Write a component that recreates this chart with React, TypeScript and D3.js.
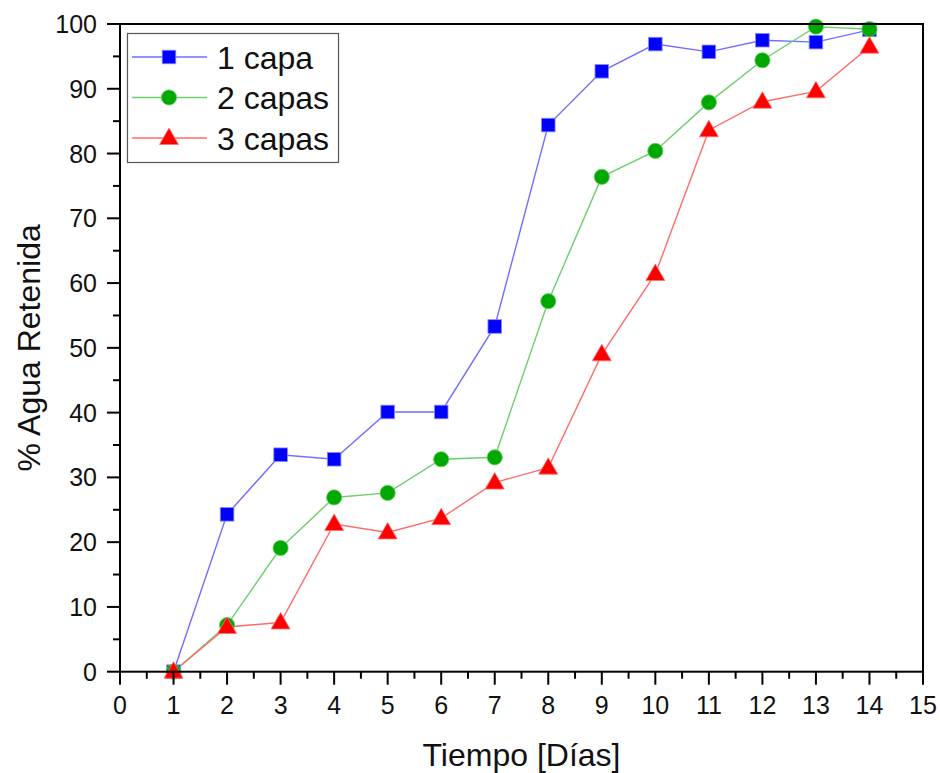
import React from "react";
import * as d3 from "d3";

const days = [1, 2, 3, 4, 5, 6, 7, 8, 9, 10, 11, 12, 13, 14];
const capa1 = [0, 24.3, 33.5, 32.8, 40.1, 40.1, 53.3, 84.4, 92.7, 96.9, 95.7, 97.5, 97.2, 99.1];
const capa2 = [0, 7.2, 19.1, 26.9, 27.6, 32.8, 33.1, 57.2, 76.4, 80.4, 87.9, 94.4, 99.6, 99.2];
const capa3 = [0, 6.9, 7.6, 22.8, 21.5, 23.7, 29.2, 31.5, 49.0, 61.4, 83.6, 88.0, 89.6, 96.5];
const seriesNames = ["1 capa", "2 capas", "3 capas"];
const xTicks = d3.range(0, 16, 1);
const yTicks = d3.range(0, 101, 10);

const W = 940;
const H = 773;
const left = 120;
const right = 923;
const top = 24;
const bottom = 671.7;
const FONT = "Liberation Sans, Arial, sans-serif";

const styles = [
  { line: "#6f6fff", fill: "#0000ff", edge: "#8a8aff", shape: "square" },
  { line: "#6ccf6c", fill: "#00a800", edge: "#5fd05f", shape: "circle" },
  { line: "#ff6b6b", fill: "#ff0000", edge: "#ff7070", shape: "triangle" },
];

function Marker({ cx, cy, s }: { cx: number; cy: number; s: any }) {
  if (s.shape === "square") {
    return <rect x={cx - 6.8} y={cy - 6.8} width={13.6} height={13.6} fill={s.fill} stroke={s.edge} strokeWidth={0.8} />;
  }
  if (s.shape === "circle") {
    return <circle cx={cx} cy={cy} r={7.6} fill={s.fill} stroke={s.edge} strokeWidth={0.8} />;
  }
  const p = d3.path();
  p.moveTo(cx, cy - 10);
  p.lineTo(cx + 9.5, cy + 6.5);
  p.lineTo(cx - 9.5, cy + 6.5);
  p.closePath();
  return <path d={p.toString()} fill={s.fill} stroke={s.edge} strokeWidth={0.8} />;
}

export default function App() {
  const x = d3.scaleLinear().domain([0, 15]).range([left, right]);
  const y = d3.scaleLinear().domain([0, 100]).range([bottom, top]);
  const data = [capa1, capa2, capa3];
  const line = d3
    .line<number>()
    .x((_, i) => x(days[i]))
    .y((v) => y(v));

  const xMinor = d3.range(0.5, 15, 1);
  const yMinor = d3.range(5, 100, 10);

  return (
    <div style={{ position: "absolute", left: 0, top: 0 }}>
      <svg width={W} height={H} style={{ display: "block", background: "#fff" }} fontFamily={FONT}>
        {data.map((vals, k) => (
          <path key={"l" + k} d={line(vals) || ""} fill="none" stroke={styles[k].line} strokeWidth={1.4} />
        ))}
        {data.map((vals, k) =>
          vals.map((v, i) => <Marker key={"m" + k + "-" + i} cx={x(days[i])} cy={y(v)} s={styles[k]} />)
        )}

        <rect x={left} y={top} width={right - left} height={bottom - top} fill="none" stroke="#000" strokeWidth={2} />

        {xTicks.map((t) => (
          <g key={"xt" + t}>
            <line x1={x(t)} x2={x(t)} y1={bottom} y2={bottom + 13} stroke="#000" strokeWidth={2} />
            <text x={x(t)} y={714} textAnchor="middle" fontSize={25} fill="#111">
              {t}
            </text>
          </g>
        ))}
        {xMinor.map((t) => (
          <line key={"xm" + t} x1={x(t)} x2={x(t)} y1={bottom} y2={bottom + 7} stroke="#000" strokeWidth={2} />
        ))}

        {yTicks.map((t) => (
          <g key={"yt" + t}>
            <line x1={left - 13} x2={left} y1={y(t)} y2={y(t)} stroke="#000" strokeWidth={2} />
            <text x={97} y={y(t)} dy="0.36em" textAnchor="end" fontSize={25} fill="#111">
              {t}
            </text>
          </g>
        ))}
        {yMinor.map((t) => (
          <line key={"ym" + t} x1={left - 7} x2={left} y1={y(t)} y2={y(t)} stroke="#000" strokeWidth={2} />
        ))}

        <text x={(left + right) / 2} y={766} textAnchor="middle" fontSize={32} fill="#111">
          Tiempo [Días]
        </text>
        <text
          transform={`translate(40, ${(top + bottom) / 2}) rotate(-90)`}
          textAnchor="middle"
          fontSize={32}
          fill="#111"
        >
          % Agua Retenida
        </text>

        <rect x={127.5} y={33.5} width={211} height={129} fill="#fff" stroke="#555" strokeWidth={1.2} />
        {seriesNames.map((name, k) => {
          const ly = 57 + k * 40.5;
          return (
            <g key={"lg" + k}>
              <line x1={132} x2={207} y1={ly} y2={ly} stroke={styles[k].line} strokeWidth={1.4} />
              <Marker cx={169} cy={ly} s={styles[k]} />
              <text x={217} y={ly} dy="0.36em" fontSize={32} fill="#111">
                {name}
              </text>
            </g>
          );
        })}
      </svg>
    </div>
  );
}
